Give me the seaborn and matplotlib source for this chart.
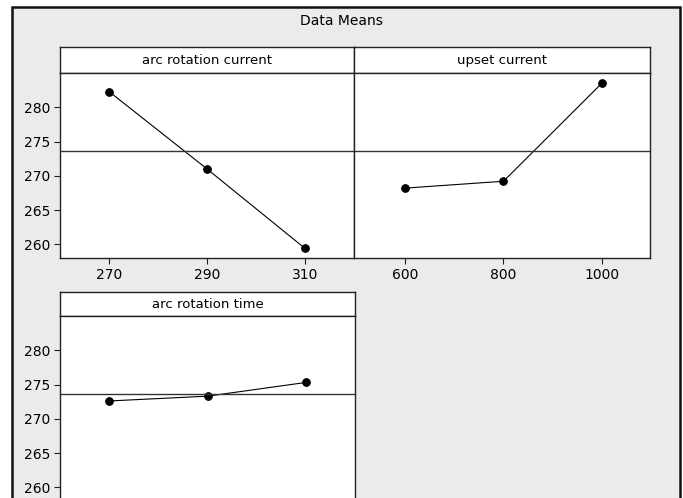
import pandas as pd
import seaborn as sns
import matplotlib.pyplot as plt
from matplotlib.patches import Rectangle

# main effects (data means)
factors = ["arc rotation current", "upset current", "arc rotation time"]
levels_current = [270, 290, 310]
means_current = [282.3, 271.0, 259.4]
levels_upset = [600, 800, 1000]
means_upset = [268.2, 269.2, 283.5]
levels_time = [270, 290, 310]
means_time = [272.6, 273.3, 275.3]
grand_mean = 273.6

W, H = 683, 498
sns.set_theme(style="white")
plt.rcParams["font.family"] = ["DejaVu Sans"]
plt.rcParams["text.color"] = "black"
plt.rcParams["xtick.color"] = "black"
plt.rcParams["ytick.color"] = "black"

fig = plt.figure(figsize=(W / 100, H / 100), dpi=100)
fig.patch.set_facecolor("white")
frame = Rectangle((12 / W, -0.01), (680 - 12) / W, 1 - 7 / H + 0.01,
                  transform=fig.transFigure, facecolor="#ebebeb",
                  edgecolor="#111111", linewidth=1.8, zorder=-5)
fig.patches.append(frame)
fig.text(341 / W, 1 - 21 / H, "Data Means", ha="center", va="center", fontsize=10)


def px_axes(x0, x1, y0, y1):
    return fig.add_axes([x0 / W, 1 - y1 / H, (x1 - x0) / W, (y1 - y0) / H])


def panel(x0, x1, ys, yp, yb, levels, means, name, xlim, show_y, show_x):
    strip = px_axes(x0, x1, ys, yp)
    strip.set_xticks([])
    strip.set_yticks([])
    strip.set_facecolor("white")
    strip.text(0.5, 0.5, name, ha="center", va="center", fontsize=9.5,
               transform=strip.transAxes)
    for s in strip.spines.values():
        s.set_color("#222222")
        s.set_linewidth(1.0)

    ax = px_axes(x0, x1, yp, yb)
    df = pd.DataFrame({"level": levels, "mean": means})
    sns.lineplot(data=df, x="level", y="mean", ax=ax, color="black",
                 linewidth=0.8, marker="o", markersize=5.5,
                 markeredgecolor="black")
    ax.axhline(grand_mean, color="#333333", linewidth=1.0)
    ax.set_xlim(*xlim)
    ax.set_ylim(258.0, 285.0)
    ax.set_xlabel("")
    ax.set_ylabel("")
    ax.set_facecolor("white")
    ax.set_yticks([260, 265, 270, 275, 280])
    ax.set_xticks(levels)
    ax.tick_params(axis="both", labelsize=10, length=4, width=0.8,
                   color="#222222", pad=3)
    ax.tick_params(axis="y", left=show_y, labelleft=show_y)
    ax.tick_params(axis="x", bottom=show_x, labelbottom=show_x)
    for s in ax.spines.values():
        s.set_color("#222222")
        s.set_linewidth(1.0)
    return ax


panel(60, 354, 47, 73, 258, levels_current, means_current, factors[0],
      (260, 320), True, True)
panel(354, 650, 47, 73, 258, levels_upset, means_upset, factors[1],
      (496, 1098), False, True)
panel(60, 355, 292, 316, 501, levels_time, means_time, factors[2],
      (260, 320), True, False)

fig.savefig("out.png", dpi=100)
